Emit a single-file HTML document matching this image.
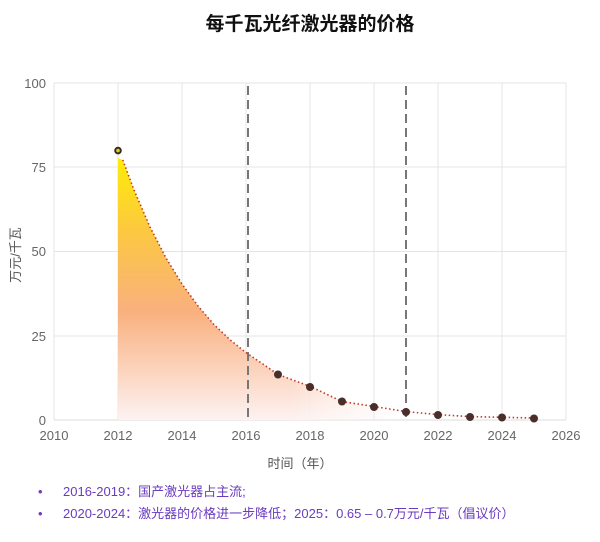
<!DOCTYPE html>
<html><head><meta charset="utf-8"><style>
body{margin:0;background:#fff;width:600px;height:537px;overflow:hidden;font-family:"Liberation Sans","Noto Sans CJK SC",sans-serif}
</style></head><body>
<svg width="600" height="537" xmlns="http://www.w3.org/2000/svg" font-family="Liberation Sans, Noto Sans CJK SC, sans-serif">
<defs>
<linearGradient id="g" x1="0" y1="150" x2="0" y2="420" gradientUnits="userSpaceOnUse">
<stop offset="0" stop-color="#fff000"/><stop offset="0.3" stop-color="#fcc840"/><stop offset="0.6" stop-color="#f9b07f"/><stop offset="1" stop-color="#fdf2f2"/>
</linearGradient>
<linearGradient id="h" x1="118" y1="0" x2="406" y2="0" gradientUnits="userSpaceOnUse">
<stop offset="0" stop-color="#fff"/><stop offset="0.6" stop-color="#fff"/><stop offset="1" stop-color="#fff" stop-opacity="0"/>
</linearGradient>
<mask id="m"><rect x="0" y="0" width="600" height="537" fill="url(#h)"/></mask>
</defs>
<text x="310" y="30" text-anchor="middle" font-size="19" font-weight="bold" fill="#111">每千瓦光纤激光器的价格</text>
<g stroke="#e4e4e4" stroke-width="1">
<line x1="54" y1="83" x2="566" y2="83"/><line x1="54" y1="167" x2="566" y2="167"/><line x1="54" y1="251.5" x2="566" y2="251.5"/><line x1="54" y1="336" x2="566" y2="336"/>
<line x1="54" y1="83" x2="54" y2="420"/><line x1="118" y1="83" x2="118" y2="420"/><line x1="182" y1="83" x2="182" y2="420"/><line x1="246" y1="83" x2="246" y2="420"/><line x1="310" y1="83" x2="310" y2="420"/><line x1="374" y1="83" x2="374" y2="420"/><line x1="438" y1="83" x2="438" y2="420"/><line x1="502" y1="83" x2="502" y2="420"/><line x1="566" y1="83" x2="566" y2="420"/>
</g>
<line x1="54" y1="420" x2="566" y2="420" stroke="#ddd"/>
<path mask="url(#m)" fill="url(#g)" d="M118,420 L118,158 L122.8,160 L134,190 L150,227 L166,258 L182,284 L198,306 L214,324.6 L230,339.8 L246,352.6 L262,363.4 L278,374.5 L310,386.3 L342,401.5 L374,406.5 L406,411.6 L406,420 Z"/>
<path fill="none" stroke="#c0392b" stroke-width="1.6" stroke-dasharray="1.5 2.5" d="M122.8,160 L134,190 L150,227 L166,258 L182,284 L198,306 L214,324.6 L230,339.8 L246,352.6 L262,363.4 L278,374.5 L310,386.3 L342,401.5 L374,406.5 L406,411.6 L438,414.6 L470,416.6 L502,417.3 L534,418"/>
<g stroke="#777" stroke-width="2" stroke-dasharray="9 5"><line x1="248" y1="86" x2="248" y2="420"/><line x1="406" y1="86" x2="406" y2="420"/></g>
<circle cx="118" cy="150.6" r="2.8" fill="#d8d020" stroke="#3a2a20" stroke-width="2"/>
<g fill="#4a2e2a"><circle cx="278" cy="374.5" r="4"/><circle cx="310" cy="387" r="4"/><circle cx="342" cy="401.5" r="4"/><circle cx="374" cy="407" r="4"/><circle cx="406" cy="412" r="4"/><circle cx="438" cy="415" r="4"/><circle cx="470" cy="417" r="4"/><circle cx="502" cy="417.5" r="4"/><circle cx="534" cy="418.5" r="4"/></g>
<g font-size="13" fill="#666" text-anchor="end"><text x="46" y="88">100</text><text x="46" y="172">75</text><text x="46" y="256">50</text><text x="46" y="341">25</text><text x="46" y="425">0</text></g>
<g font-size="13" fill="#666" text-anchor="middle"><text x="54" y="440">2010</text><text x="118" y="440">2012</text><text x="182" y="440">2014</text><text x="246" y="440">2016</text><text x="310" y="440">2018</text><text x="374" y="440">2020</text><text x="438" y="440">2022</text><text x="502" y="440">2024</text><text x="566" y="440">2026</text></g>
<text transform="translate(20,255) rotate(-90)" text-anchor="middle" font-size="13" fill="#555">万元/千瓦</text>
<text x="300" y="468" text-anchor="middle" font-size="13" fill="#555">时间（年）</text>
<g font-size="13" fill="#6a3cc0"><text x="38" y="496">•</text><text x="63" y="496">2016-2019：国产激光器占主流;</text><text x="38" y="518">•</text><text x="63" y="518">2020-2024：激光器的价格进一步降低；2025：0.65 – 0.7万元/千瓦（倡议价）</text></g>
</svg>
</body></html>
